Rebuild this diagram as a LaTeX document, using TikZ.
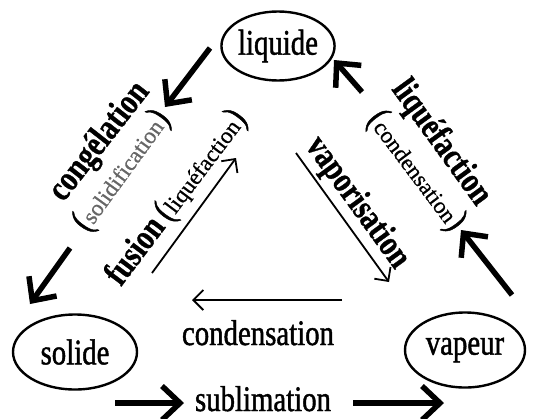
\documentclass[tikz,border=0pt]{standalone}
\usepackage{fontspec}
\setmainfont{Liberation Serif}
\newfontfamily\nrwfont{Liberation Serif}[FakeStretch=0.8, FakeBold=1.2]
\newfontfamily\nrwboldfont{Liberation Serif Bold}[FakeStretch=0.8, FakeBold=0.8]
\newfontfamily\plainfont{Liberation Serif}[FakeBold=0.6]
\usetikzlibrary{arrows.meta,shapes.geometric}
\newcommand\bigparen[1]{{\nrwfont\fontsize{36}{40}\selectfont #1}}
\newcommand\bigbold[1]{{\nrwboldfont\fontsize{36}{40}\selectfont #1}}
\begin{document}
\begin{tikzpicture}[x=1pt,y=-1pt,
  state/.style={draw, line width=2.4pt, ellipse, inner sep=0pt,
    font=\nrwfont\fontsize{36}{40}\selectfont},
  bigtext/.style={font=\nrwfont\fontsize{36}{40}\selectfont, inner sep=0pt},
  boldtext/.style={font=\nrwboldfont\fontsize{36}{40}\selectfont, inner sep=0pt},
  smalltext/.style={font=\plainfont\fontsize{23}{26}\selectfont, inner sep=0pt},
  thickarrow/.style={line width=5.5pt, -{Straight Barb[length=18pt,width=34pt]}},
  thinarrow/.style={line width=1.8pt, -{Straight Barb[length=10pt,width=20pt]}}]
\useasboundingbox (0,0) rectangle (534,418);

% states
\node[state, minimum width=112pt, minimum height=69pt] (liq) at (278,46) {liquide};
\node[state, minimum width=124pt, minimum height=75pt] (sol) at (75,352) {solide};
\node[state, minimum width=120pt, minimum height=75pt] (vap) at (465,350) {vapeur};

% arrow end points
\coordinate (c1a) at (210,48);  \coordinate (c1b) at (165,107);
\coordinate (c2a) at (70,248);  \coordinate (c2b) at (30,304);
\coordinate (fa)  at (152,273); \coordinate (fb)  at (236,158);
\coordinate (va)  at (296,153); \coordinate (vb)  at (389,282);
\coordinate (l1a) at (362,92);  \coordinate (l1b) at (334,60);
\coordinate (l2a) at (512,295); \coordinate (l2b) at (461,230);
\coordinate (ca)  at (342,300); \coordinate (cb)  at (192,300);
\coordinate (s1a) at (115,403); \coordinate (s1b) at (184,403);
\coordinate (s2a) at (353,403); \coordinate (s2b) at (444,403);

% arrows
\draw[thickarrow] (c1a) -- (c1b);
\draw[thickarrow] (c2a) -- (c2b);
\draw[thickarrow] (l1a) -- (l1b);
\draw[thickarrow] (l2a) -- (l2b);
\draw[thickarrow] (s1a) -- (s1b);
\draw[thickarrow] (s2a) -- (s2b);
\draw[thinarrow] (fa) -- (fb);
\draw[thinarrow] (va) -- (vb);
\draw[thinarrow] (ca) -- (cb);

% labels
\node[boldtext, rotate=52] (lcong) at (100,142) {congélation};
\node[smalltext, rotate=54] (lsolid) at (122,171) {\bigparen{(}\textcolor{black!60}{solidification}\bigparen{)}};
\node[smalltext, rotate=53] (lfus) at (177,198) {\bigbold{fusion} \bigparen{(}liquéfaction\bigparen{)}};
\node[boldtext, rotate=-54] (lvap) at (357,203) {vaporisation};
\node[boldtext, rotate=-54] (lliq) at (441,143) {liquéfaction};
\node[smalltext, rotate=-53] (lcondr) at (416,171) {\bigparen{(}condensation\bigparen{)}};
\node[bigtext, anchor=base] (lcond) at (258,345) {condensation};
\node[bigtext, anchor=base] (lsub) at (263,411) {sublimation};
\end{tikzpicture}
\end{document}
